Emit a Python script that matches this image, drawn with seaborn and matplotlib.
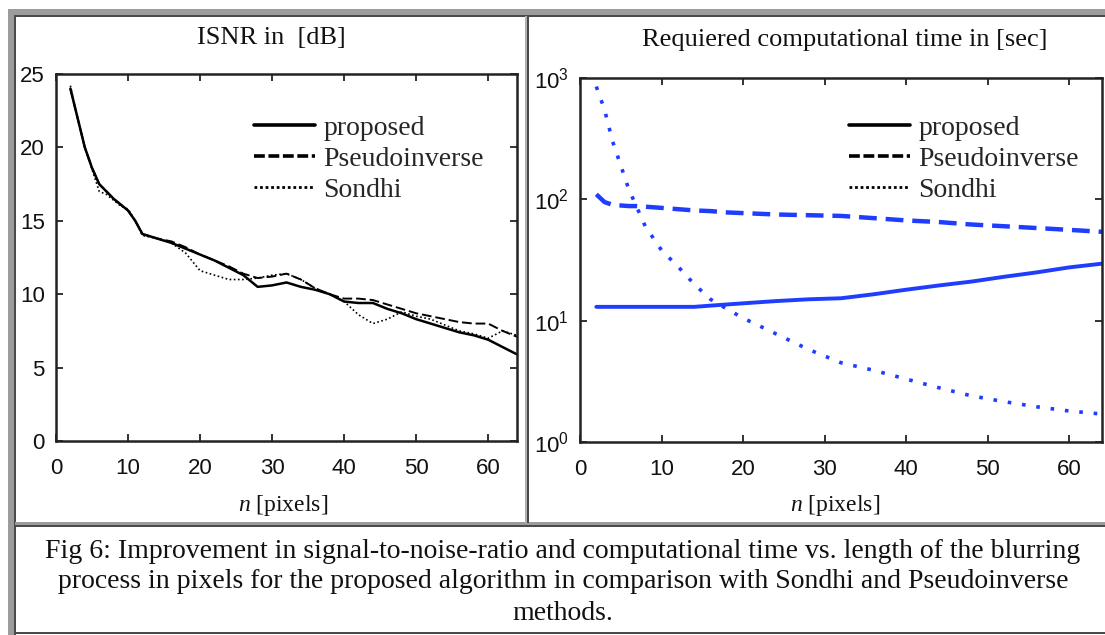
import numpy as np
import pandas as pd
import matplotlib
matplotlib.use("Agg")
import matplotlib.pyplot as plt
import seaborn as sns
from matplotlib.patches import Rectangle
from matplotlib.lines import Line2D
from matplotlib.ticker import LogLocator, LogFormatterMathtext, NullLocator

# ---------------- data ----------------
isnr_x = [2, 3, 4, 5, 6, 7, 8, 9, 10, 11, 12, 14, 16, 18, 20, 22, 24, 26, 28, 30, 32, 34, 36, 38, 40,
          42, 44, 46, 48, 50, 52, 54, 56, 58, 60, 62, 64]
isnr_proposed = [24.0, 22.0, 20.0, 18.6, 17.5, 17.0, 16.5, 16.1, 15.7, 15.0, 14.1, 13.8, 13.5, 13.1, 12.7,
                 12.3, 11.8, 11.3, 10.5, 10.6, 10.8, 10.5, 10.3, 10.0, 9.5, 9.4, 9.4, 9.0, 8.7, 8.3,
                 8.0, 7.7, 7.4, 7.2, 6.9, 6.4, 5.9]
isnr_pseudo = [24.0, 22.0, 20.0, 18.6, 17.5, 17.0, 16.5, 16.1, 15.7, 15.0, 14.1, 13.8, 13.6, 13.2, 12.7,
               12.3, 11.9, 11.4, 11.1, 11.2, 11.4, 11.0, 10.4, 10.0, 9.7, 9.7, 9.6, 9.3, 9.0, 8.7,
               8.5, 8.3, 8.1, 8.0, 8.0, 7.5, 7.1]
isnr_sondhi = [24.2, 22.0, 20.0, 18.5, 17.0, 16.8, 16.4, 16.0, 15.8, 15.0, 14.0, 13.8, 13.5, 12.8, 11.6,
               11.3, 11.0, 11.0, 11.1, 11.3, 11.4, 11.0, 10.4, 10.0, 9.5, 8.6, 8.0, 8.3, 8.8, 8.5,
               8.3, 7.9, 7.5, 7.3, 7.0, 7.5, 7.2]

time_x = [2, 3, 4, 5, 6, 7, 8, 10, 12, 14, 16, 18, 20, 24, 28, 32, 36, 40, 44, 48, 52, 56, 60, 64]
time_proposed = [13, 13, 13, 13, 13, 13, 13, 13, 13, 13, 13.3, 13.6, 13.9, 14.5, 15, 15.3, 16.5, 18,
                 19.5, 21, 23, 25, 27.5, 29.5]
time_pseudo = [110, 95, 90, 89, 88, 88, 87, 85, 83, 81, 80, 78, 77, 75, 74, 73, 70, 67, 65, 62, 60, 58,
               56, 54]
time_sondhi = [850, 550, 300, 190, 120, 85, 60, 38, 28, 20, 15, 12.5, 10.5, 7.8, 5.8, 4.5, 3.9, 3.3,
               2.8, 2.4, 2.15, 1.95, 1.8, 1.7]

series_names = ["proposed", "Pseudoinverse", "Sondhi"]
left_title = "ISNR in  [dB]"
right_title = "Requiered computational time in [sec]"
caption_lines = [
    "Fig 6: Improvement in signal-to-noise-ratio and computational time vs. length of the blurring",
    "process in pixels for the proposed algorithm in comparison with Sondhi and Pseudoinverse",
    "methods.",
]

# ---------------- figure ----------------
sns.set_theme(style="white")
plt.rcParams["font.family"] = ["Liberation Sans", "DejaVu Sans"]
plt.rcParams["mathtext.fontset"] = "custom"
plt.rcParams["mathtext.rm"] = "Liberation Sans"
plt.rcParams["mathtext.it"] = "Liberation Serif:italic"
plt.rcParams["mathtext.default"] = "regular"

W, H = 1105, 635
fig = plt.figure(figsize=(W / 100, H / 100), dpi=100)
fig.patch.set_facecolor("white")


def fx(x):
    return x / W


def fy(y):
    return 1 - y / H


def box(x0, y0, x1, y1):
    return [fx(x0), fy(y1), fx(x1) - fx(x0), fy(y0) - fy(y1)]


def rect(x0, y0, x1, y1, color):
    fig.add_artist(Rectangle((fx(x0), fy(y1)), fx(x1) - fx(x0), fy(y0) - fy(y1),
                             transform=fig.transFigure, facecolor=color, edgecolor="none", zorder=0))


# frame
grey = "#9c9c9c"
dark = "#4a4a4a"
rect(8, 9, W, 16, grey)        # top band
rect(8, 9, 15, 635, grey)      # left band
rect(15, 15, W, 17, dark)      # top inner dark line
rect(14, 15, 16, 635, dark)    # left inner dark line
rect(15, 522, W, 525, grey)    # horizontal divider light
rect(15, 525, W, 527, dark)    # horizontal divider dark
rect(525, 16, 527, 523, "#b0b0b0")
rect(527, 16, 529, 523, dark)  # vertical divider
rect(15, 632, W, 634, dark)    # bottom line

ax1 = fig.add_axes(box(56, 74, 517, 441))
ax2 = fig.add_axes(box(580, 78, 1102, 442))

blue = "#1f3dff"
tick_fs = 16
serif = ["Liberation Serif", "DejaVu Serif"]

# left panel
sns.lineplot(x=isnr_x, y=isnr_proposed, ax=ax1, color="black", lw=1.8, linestyle="-")
sns.lineplot(x=isnr_x, y=isnr_pseudo, ax=ax1, color="black", lw=1.4, linestyle=(0, (5, 2)))
sns.lineplot(x=isnr_x, y=isnr_sondhi, ax=ax1, color="black", lw=1.2, linestyle=(0, (1, 1.5)))
ax1.set_xlim(0, 64)
ax1.set_ylim(0, 25)
ax1.set_xticks([0, 10, 20, 30, 40, 50, 60])
ax1.set_yticks([0, 5, 10, 15, 20, 25])

# right panel
sns.lineplot(x=time_x, y=time_proposed, ax=ax2, color=blue, lw=2.8, linestyle="-")
sns.lineplot(x=time_x, y=time_pseudo, ax=ax2, color=blue, lw=3.2, linestyle=(0, (4, 2)))
sns.lineplot(x=time_x, y=time_sondhi, ax=ax2, color=blue, lw=2.6, linestyle=(0, (1, 3)))
ax2.set_yscale("log")
ax2.set_xlim(0, 64)
ax2.set_ylim(1, 1000)
ax2.set_xticks([0, 10, 20, 30, 40, 50, 60])
ax2.yaxis.set_major_locator(LogLocator(base=10, numticks=10))
ax2.yaxis.set_major_formatter(LogFormatterMathtext())
ax2.yaxis.set_minor_locator(NullLocator())

for ax in (ax1, ax2):
    ax.set_facecolor("white")
    for s in ax.spines.values():
        s.set_visible(True)
        s.set_color("#222222")
        s.set_linewidth(1.8)
    ax.tick_params(axis="both", which="major", direction="in", length=5, width=1.2,
                   top=True, right=True, bottom=True, left=True,
                   labelsize=tick_fs, colors="#111111")
    ax.tick_params(axis="x", pad=12)
    ax.tick_params(axis="y", pad=8)
    ax.set_xlabel("")
    ax.set_ylabel("")

# titles and x labels
fig.text(fx(271), fy(38), left_title, ha="center", va="center", family=serif, fontsize=19, color="#111111")
fig.text(fx(845), fy(40), right_title, ha="center", va="center", family=serif, fontsize=19, color="#111111")
for cx in (283, 835):
    fig.text(fx(cx), fy(505), r"$\it{n}$ [pixels]", ha="center", va="center",
             family=serif, fontsize=17, color="#111111")

# legends
def legend(ax, color):
    handles = [
        Line2D([], [], color=color, lw=2.6, linestyle="-"),
        Line2D([], [], color=color, lw=2.6, linestyle=(0, (3, 1))),
        Line2D([], [], color=color, lw=2.0, linestyle=(0, (1, 1))),
    ]
    lg = ax.legend(handles, series_names, loc="upper left", frameon=False,
                   prop={"family": serif, "size": 20}, handlelength=2.2,
                   handletextpad=0.3, labelspacing=0.2, borderaxespad=0)
    return lg

lg1 = legend(ax1, "black")
lg1.set_bbox_to_anchor((fx(243), fy(104)), transform=fig.transFigure)
lg2 = legend(ax2, "black")
lg2.set_bbox_to_anchor((fx(838), fy(104)), transform=fig.transFigure)

# caption
for i, line in enumerate(caption_lines):
    fig.text(fx(563), fy(551 + i * 31), line, ha="center", va="center",
             family=serif, fontsize=20, color="#111111")

fig.savefig("out.png", dpi=100, facecolor="white")
